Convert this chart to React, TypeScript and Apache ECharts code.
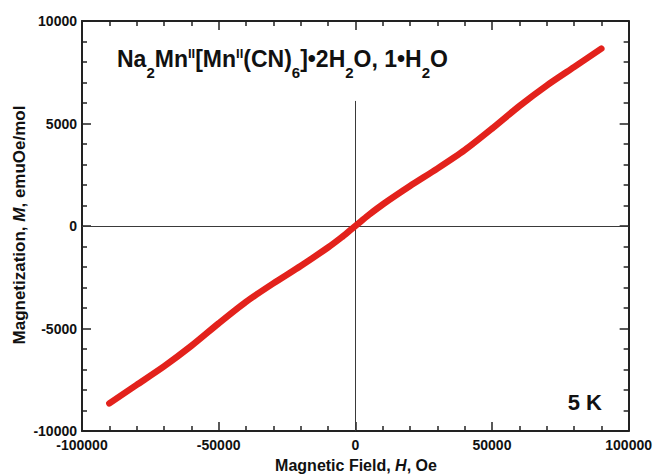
import React, { useEffect, useRef } from "react";
import * as echarts from "echarts";

// Magnetic field H (Oe) and magnetization M (emuOe/mol)
const fieldH = [-90000, -80000, -70000, -60000, -50000, -40000, -30000, -20000, -10000, -5000, -2000, 0, 2000, 5000, 10000, 20000, 30000, 40000, 50000, 60000, 70000, 80000, 90000];
const magnetM = [-8650, -7750, -6850, -5850, -4750, -3700, -2800, -1950, -1050, -550, -220, 0, 220, 550, 1050, 1950, 2800, 3700, 4750, 5850, 6850, 7750, 8650];

const xTicks = { min: -100000, max: 100000, interval: 50000 };
const yTicks = { min: -10000, max: 10000, interval: 5000 };

const FONT = "'Liberation Sans', Arial, Helvetica, sans-serif";
const AXIS_COLOR = "#222";

export default function App() {
  const ref = useRef<HTMLDivElement>(null);
  useEffect(() => {
    if (!ref.current) return;
    const chart = echarts.init(ref.current, null, { renderer: "svg" });
    const data = fieldH.map((h, i) => [h, magnetM[i]]);

    const baseX = {
      type: "value",
      min: xTicks.min,
      max: xTicks.max,
      interval: xTicks.interval,
      axisLine: { show: true, onZero: false, lineStyle: { color: AXIS_COLOR, width: 2 } },
      axisTick: { show: true, inside: true, length: 9, lineStyle: { color: AXIS_COLOR, width: 1.5 } },
      minorTick: { show: true, splitNumber: 5, length: 5, lineStyle: { color: AXIS_COLOR, width: 1.5 } },
      splitLine: { show: false },
      minorSplitLine: { show: false },
    };
    const baseY = {
      type: "value",
      min: yTicks.min,
      max: yTicks.max,
      interval: yTicks.interval,
      axisLine: { show: true, onZero: false, lineStyle: { color: AXIS_COLOR, width: 2 } },
      axisTick: { show: true, inside: true, length: 9, lineStyle: { color: AXIS_COLOR, width: 1.5 } },
      minorTick: { show: true, splitNumber: 5, length: 5, lineStyle: { color: AXIS_COLOR, width: 1.5 } },
      splitLine: { show: false },
      minorSplitLine: { show: false },
    };
    const fmt = (v: number) => String(v);

    chart.setOption({
      animation: false,
      backgroundColor: "#ffffff",
      grid: { left: 82, right: 26, top: 21, bottom: 44, containLabel: false },
      xAxis: [
        {
          ...baseX,
          position: "bottom",
          axisLabel: { show: true, margin: 7, formatter: fmt, color: "#111", fontFamily: FONT, fontWeight: "bold", fontSize: 14 },
        },
        { ...baseX, position: "top", axisLabel: { show: false } },
      ],
      yAxis: [
        {
          ...baseY,
          position: "left",
          axisLabel: { show: true, margin: 5, formatter: fmt, color: "#111", fontFamily: FONT, fontWeight: "bold", fontSize: 14 },
        },
        { ...baseY, position: "right", axisLabel: { show: false } },
      ],
      series: [
        {
          type: "line",
          xAxisIndex: 0,
          yAxisIndex: 0,
          data,
          showSymbol: false,
          smooth: 0.25,
          lineStyle: { color: "#e3221c", width: 6.5, cap: "round", join: "round" },
          z: 3,
          markLine: {
            silent: true,
            symbol: "none",
            label: { show: false },
            lineStyle: { color: "#3a3a3a", width: 1, type: "solid" },
            z: 2,
            data: [
              [{ coord: [xTicks.min, 0] }, { coord: [xTicks.max, 0] }],
              [{ coord: [0, 6100] }, { coord: [0, yTicks.min] }],
            ],
          },
        },
      ],
      graphic: [
        {
          type: "text",
          x: 117,
          y: 47,
          style: {
            text: "{m|Na}{sub|2}{m|Mn}{sup|II}{m|[Mn}{sup|II}{m|(CN)}{sub|6}{m|]•2H}{sub|2}{m|O, 1•H}{sub|2}{m|O}",
            textVerticalAlign: "top",
            fill: "#111",
            rich: {
              m: { fontFamily: FONT, fontWeight: "bold", fontSize: 23, lineHeight: 25, verticalAlign: "top", fill: "#111" },
              sub: { fontFamily: FONT, fontWeight: "bold", fontSize: 15, lineHeight: 15, padding: [18, 0, 0, 0], verticalAlign: "top", fill: "#111" },
              sup: { fontFamily: FONT, fontWeight: "bold", fontSize: 13, lineHeight: 17, verticalAlign: "top", fill: "#111" },
            },
          },
        },
        {
          type: "text",
          x: 602,
          y: 402,
          style: {
            text: "5 K",
            align: "right",
            verticalAlign: "middle",
            fontFamily: FONT,
            fontWeight: "bold",
            fontSize: 22,
            fill: "#111",
          },
        },
        {
          type: "text",
          x: 356,
          y: 465,
          style: {
            text: "{b|Magnetic Field, }{i|H}{b|, Oe}",
            align: "center",
            verticalAlign: "middle",
            rich: {
              b: { fontFamily: FONT, fontWeight: "bold", fontSize: 16, fill: "#111" },
              i: { fontFamily: FONT, fontWeight: "bold", fontStyle: "italic", fontSize: 16, fill: "#111" },
            },
          },
        },
        {
          type: "text",
          x: 19,
          y: 225,
          rotation: Math.PI / 2,
          style: {
            text: "{b|Magnetization, }{i|M}{b|, emuOe/mol}",
            align: "center",
            verticalAlign: "middle",
            rich: {
              b: { fontFamily: FONT, fontWeight: "bold", fontSize: 17, fill: "#111" },
              i: { fontFamily: FONT, fontWeight: "bold", fontStyle: "italic", fontSize: 17, fill: "#111" },
            },
          },
        },
      ],
    });
    return () => chart.dispose();
  }, []);

  return (
    <div
      ref={ref}
      style={{ position: "fixed", left: 0, top: 0, width: 655, height: 475, background: "#fff" }}
    />
  );
}
